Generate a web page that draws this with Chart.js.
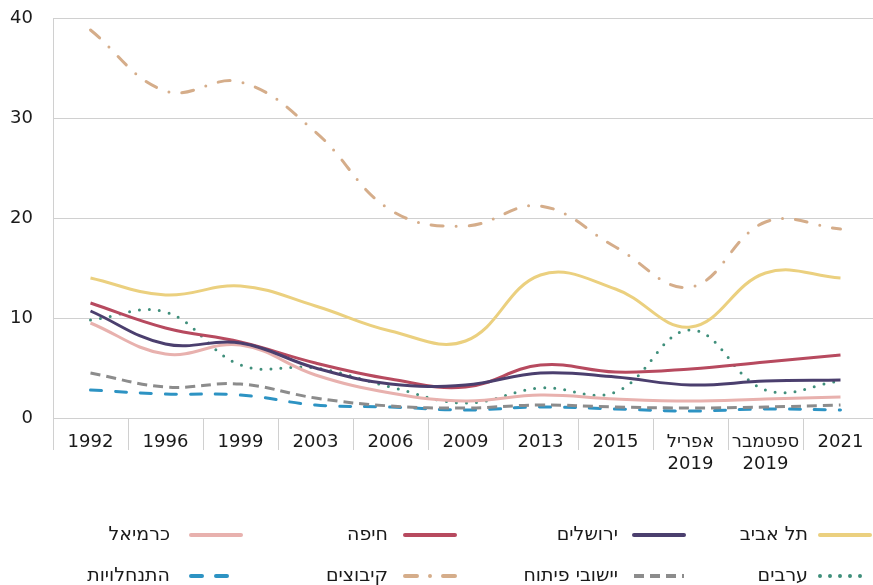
<!DOCTYPE html>
<html lang="he">
<head>
<meta charset="utf-8">
<script src="https://cdn.jsdelivr.net/npm/chart.js@4"></script>
<style>
  html, body { margin: 0; padding: 0; background: #fff; overflow: hidden; }
  .wrap { position: relative; width: 878px; height: 585px; }
</style>
</head>
<body>
<div class="wrap"><canvas id="votesChart"></canvas></div>
<script>
const categories = ["1992", "1996", "1999", "2003", "2006", "2009", "2013", "2015",
  ["אפריל", "2019"], ["ספטמבר", "2019"], "2021"];
const yTicks = [0, 10, 20, 30, 40];

const telAviv     = [14.0, 12.3, 13.2, 11.2, 8.7, 7.7, 14.3, 12.9, 9.1, 14.5, 14.0];
const jerusalem   = [10.7, 7.4, 7.5, 5.0, 3.4, 3.3, 4.5, 4.1, 3.3, 3.7, 3.8];
const haifa       = [11.5, 9.0, 7.6, 5.5, 3.9, 3.1, 5.3, 4.6, 4.9, 5.6, 6.3];
const karmiel     = [9.5, 6.4, 7.3, 4.3, 2.5, 1.7, 2.3, 1.9, 1.7, 1.9, 2.1];
const arabs       = [9.8, 10.6, 5.3, 5.0, 3.1, 1.5, 3.0, 2.6, 8.8, 2.8, 3.7];
const devTowns    = [4.5, 3.1, 3.4, 2.0, 1.2, 1.0, 1.3, 1.1, 1.0, 1.1, 1.3];
const kibbutzim   = [38.8, 32.7, 33.6, 28.6, 20.8, 19.2, 21.2, 17.1, 13.1, 19.6, 18.9];
const settlements = [2.8, 2.4, 2.3, 1.3, 1.1, 0.8, 1.1, 0.9, 0.7, 0.9, 0.8];

const FONT = "'DejaVu Sans', sans-serif";

function series(label, data, color, dash, cap) {
  return {
    label: label,
    data: data,
    borderColor: color,
    backgroundColor: color,
    borderWidth: 3,
    borderDash: dash || [],
    borderCapStyle: cap || "butt",
    pointRadius: 0,
    tension: 0.4,
    fill: false
  };
}

// legend laid out as a 4 x 2 grid, right to left
const legendCols = [
  { sample: 818, text: 808 },
  { sample: 632, text: 618 },
  { sample: 403, text: 388 },
  { sample: 189, text: 170 }
];
const legendRows = [535, 576];

const gridLegend = {
  id: "gridLegend",
  afterDraw(chart) {
    const ctx = chart.ctx;
    chart.data.datasets.forEach((ds, i) => {
      const col = legendCols[i % 4];
      const y = legendRows[Math.floor(i / 4)];
      ctx.save();
      ctx.strokeStyle = ds.borderColor;
      ctx.lineWidth = 4;
      ctx.lineCap = ds.borderCapStyle === "butt" && ds.borderDash.length === 0 ? "round" : ds.borderCapStyle;
      ctx.setLineDash(ds.borderDash);
      ctx.beginPath();
      ctx.moveTo(col.sample + 2, y);
      ctx.lineTo(col.sample + 52, y);
      ctx.stroke();
      ctx.setLineDash([]);
      ctx.fillStyle = "#1a1a1a";
      ctx.font = "19px " + FONT;
      ctx.direction = "rtl";
      ctx.textAlign = "right";
      ctx.textBaseline = "middle";
      ctx.fillText(ds.label, col.text, y);
      ctx.restore();
    });
  }
};

const ctx = document.getElementById("votesChart");

const votesChart = new Chart(ctx, {
  type: "line",
  data: {
    labels: categories,
    datasets: [
      series("תל אביב", telAviv, "#ebd07f"),
      series("ירושלים", jerusalem, "#4b3f6e"),
      series("חיפה", haifa, "#b74a5f"),
      series("כרמיאל", karmiel, "#e8b1ae"),
      series("ערבים", arabs, "#3f8f7b", [0, 10], "round"),
      series("יישובי פיתוח", devTowns, "#8c8c8c", [10, 6]),
      series("קיבוצים", kibbutzim, "#d5ad8a", [12, 13, 0, 13], "round"),
      series("התנחלויות", settlements, "#2d93c3", [11, 14], "round")
    ]
  },
  options: {
    responsive: true,
    maintainAspectRatio: false,
    animation: false,
    layout: { padding: { top: 18, right: 0, bottom: 107, left: 0 } },
    scales: {
      x: {
        offset: true,
        grid: {
          offset: true,
          drawOnChartArea: false,
          drawTicks: true,
          tickLength: 32,
          color: "#d0d0d0"
        },
        border: { color: "#d0d0d0" },
        ticks: {
          color: "#1a1a1a",
          font: { family: FONT, size: 18, lineHeight: 1.25 },
          padding: -19,
          maxRotation: 0,
          autoSkip: false
        },
        afterFit(scale) { scale.height = 60; }
      },
      y: {
        min: 0,
        max: 40,
        afterBuildTicks(scale) { scale.ticks = yTicks.map(v => ({ value: v })); },
        grid: { color: "#d0d0d0", drawTicks: true, tickLength: 20, tickColor: "rgba(0,0,0,0)" },
        border: { color: "#d0d0d0" },
        ticks: {
          color: "#1a1a1a",
          font: { family: FONT, size: 18 },
          padding: 0
        },
        afterFit(scale) { scale.width = 53; }
      }
    },
    plugins: {
      legend: { display: false },
      tooltip: { enabled: false }
    }
  },
  plugins: [gridLegend]
});
</script>
</body>
</html>
